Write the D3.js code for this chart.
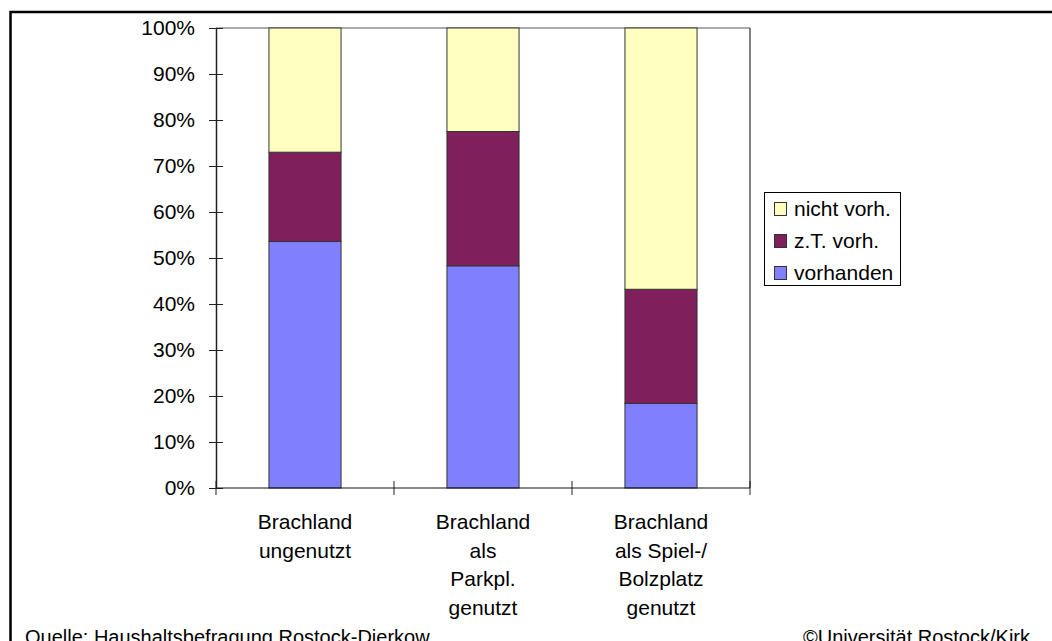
<!DOCTYPE html>
<html>
<head>
<meta charset="utf-8">
<script src="https://cdn.jsdelivr.net/npm/d3@7"></script>
<style>
    body { margin: 0; background: #fff; }
    svg { display: block; font-family: "Liberation Sans", Arial, sans-serif; }
</style>
</head>
<body>
<svg id="chart"></svg>
<script>
// categories (each label broken into lines like the original)
const categories = ['ungenutzt', 'parkpl', 'spielplatz'];
const categoryLines = [
    ['Brachland', 'ungenutzt'],
    ['Brachland', 'als', 'Parkpl.', 'genutzt'],
    ['Brachland', 'als Spiel-/', 'Bolzplatz', 'genutzt']
];

// series values in percent
const seriesNames = ['vorhanden', 'z.T. vorh.', 'nicht vorh.'];
const vorhanden = [53.6, 48.3, 18.4];
const teilweise = [19.4, 29.2, 24.8];
const nichtVorh = [27.0, 22.5, 56.8];

const yTicks = [0, 10, 20, 30, 40, 50, 60, 70, 80, 90, 100];

const colors = {
    'vorhanden': '#8080ff',
    'z.T. vorh.': '#7f1f5c',
    'nicht vorh.': '#ffffc0'
};

const width = 1052;
const height = 641;
const plot = { left: 216, right: 750, top: 28, bottom: 488 };
const fontSize = 21;

var rows = categories.map(function(c, i) {
    return {
        key: c,
        'vorhanden': vorhanden[i],
        'z.T. vorh.': teilweise[i],
        'nicht vorh.': nichtVorh[i]
    };
});

var svg = d3.select('#chart')
    .attr('width', width)
    .attr('height', height);

// outer frame, runs off the right / bottom edge like the screenshot
svg.append('rect')
    .attr('x', 10.5)
    .attr('y', 12)
    .attr('width', width + 20)
    .attr('height', height + 20)
    .attr('fill', 'none')
    .attr('stroke', '#000')
    .attr('stroke-width', 2.5);

var x = d3.scaleBand()
    .domain(categories)
    .range([plot.left, plot.right])
    .padding(0);

var y = d3.scaleLinear()
    .domain([0, 100])
    .range([plot.bottom, plot.top]);

const barWidth = x.bandwidth() * 0.405;

var stack = d3.stack().keys(seriesNames);
var layers = stack(rows);

// plot frame: top + right
svg.append('line')
    .attr('x1', plot.left).attr('x2', plot.right)
    .attr('y1', y(100)).attr('y2', y(100))
    .attr('stroke', '#555');
svg.append('line')
    .attr('x1', plot.right).attr('x2', plot.right)
    .attr('y1', y(100)).attr('y2', y(0))
    .attr('stroke', '#000');

svg.append('g')
    .selectAll('g')
    .data(layers)
    .join('g')
    .attr('fill', d => colors[d.key])
    .selectAll('rect')
    .data(d => d)
    .join('rect')
    .attr('x', d => x(d.data.key) + (x.bandwidth() - barWidth) / 2)
    .attr('y', d => y(d[1]))
    .attr('width', barWidth)
    .attr('height', d => y(d[0]) - y(d[1]))
    .attr('stroke', '#333')
    .attr('stroke-width', 1);

// y axis with crossing ticks
var yAxis = d3.axisLeft(y)
    .tickValues(yTicks)
    .tickFormat(d => d + '%')
    .tickSizeInner(7)
    .tickSizeOuter(0)
    .tickPadding(14);

var gY = svg.append('g')
    .attr('transform', 'translate(' + plot.left + ',0)')
    .call(yAxis);
gY.select('.domain').attr('stroke', '#222').attr('stroke-width', 1.5);
gY.selectAll('.tick line').attr('x2', 7).attr('x1', -7).attr('stroke', '#222');
gY.selectAll('.tick text')
    .attr('font-size', fontSize)
    .attr('font-family', '"Liberation Sans", Arial, sans-serif')
    .attr('fill', '#000');

// x axis: ticks at category boundaries
var gX = svg.append('g')
    .attr('transform', 'translate(0,' + plot.bottom + ')');
gX.append('line')
    .attr('x1', plot.left).attr('x2', plot.right)
    .attr('stroke', '#111');
var bounds = categories.map(c => x(c)).concat([x(categories[categories.length - 1]) + x.bandwidth()]);
gX.selectAll('line.tick')
    .data(bounds)
    .join('line')
    .attr('class', 'tick')
    .attr('x1', d => d).attr('x2', d => d)
    .attr('y1', -7).attr('y2', 7)
    .attr('stroke', '#222');

svg.append('g')
    .selectAll('text')
    .data(categories)
    .join('text')
    .attr('x', d => x(d) + x.bandwidth() / 2)
    .attr('y', 529)
    .attr('text-anchor', 'middle')
    .attr('font-size', fontSize)
    .attr('fill', '#000')
    .selectAll('tspan')
    .data((d, i) => categoryLines[i])
    .join('tspan')
    .attr('x', function() { return d3.select(this.parentNode).attr('x'); })
    .attr('dy', (d, i) => i === 0 ? 0 : 28.5)
    .text(d => d);

// legend
const legendOrder = seriesNames.slice().reverse();
var legend = svg.append('g');
legend.append('rect')
    .attr('x', 764.5)
    .attr('y', 192.5)
    .attr('width', 136)
    .attr('height', 93)
    .attr('fill', '#fff')
    .attr('stroke', '#000');

var items = legend.selectAll('g')
    .data(legendOrder)
    .join('g')
    .attr('transform', (d, i) => 'translate(774,' + (209 + i * 32) + ')');
items.append('rect')
    .attr('x', 0.5)
    .attr('y', -6.5)
    .attr('width', 12)
    .attr('height', 13)
    .attr('fill', d => colors[d])
    .attr('stroke', '#333');
items.append('text')
    .attr('x', 20)
    .attr('dy', '0.35em')
    .attr('font-size', fontSize)
    .text(d => d);

// footer
svg.append('text')
    .attr('x', 25)
    .attr('y', 644)
    .attr('font-size', 20)
    .text('Quelle: Haushaltsbefragung Rostock-Dierkow');
svg.append('text')
    .attr('x', 1030)
    .attr('y', 644)
    .attr('font-size', 20)
    .attr('text-anchor', 'end')
    .text('\u00a9Universit\u00e4t Rostock/Kirk');
</script>
</body>
</html>
